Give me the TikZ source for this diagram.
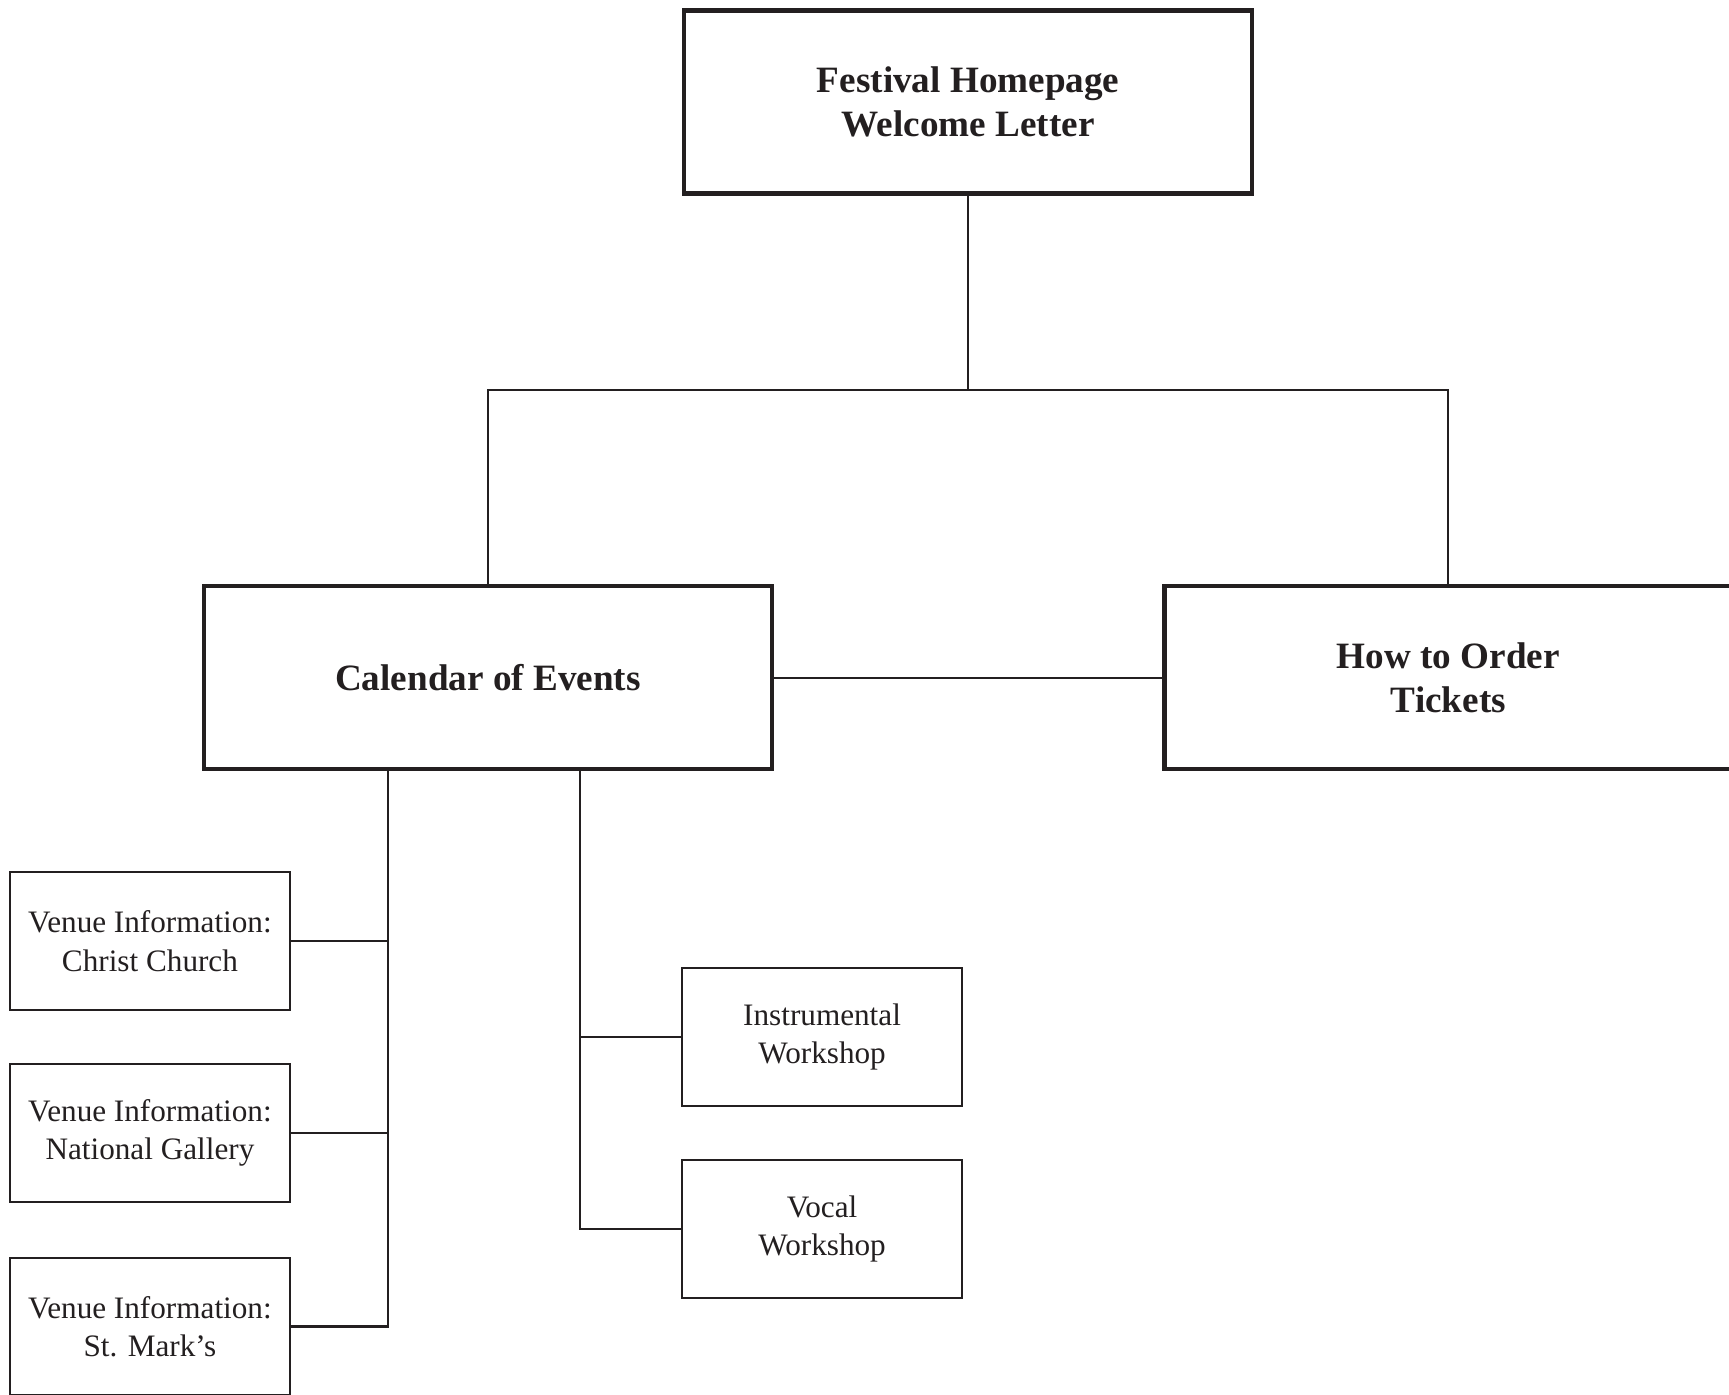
\documentclass[tikz,border=0pt]{standalone}
\usepackage{fontspec}
\setmainfont{Liberation Serif}
\usepackage{tikz}
\usetikzlibrary{positioning}
\definecolor{ink}{RGB}{35,31,32}

\begin{document}
\begin{tikzpicture}[x=0.5pt, y=-0.5pt, ink,
		bigbox/.style={draw=ink, line width=2pt, minimum width=257.5pt, minimum height=83pt,
			inner sep=0pt, align=center, text=ink, font=\fontsize{16.85}{20}\selectfont\bfseries},
		smallbox/.style={draw=ink, line width=1pt, minimum width=127pt, minimum height=62.5pt,
			inner sep=0pt, align=center, text=ink, font=\fontsize{14.15}{17.3}\selectfont},
		every path/.style={line width=1pt}]
		\useasboundingbox (0,0) rectangle (1568,1265);
		% Nodes
		\node[bigbox] (home) at (878,92.5) {Festival Homepage\\Welcome Letter};
		\node[bigbox] (cal) at (442.5,614.5) {Calendar of Events};
		\node[bigbox] (how) at (1313.5,614.5) {How to Order\\Tickets};
		\node[smallbox] (vcc) at (136,853.5) {Venue Information:\\Christ Church};
		\node[smallbox] (vng) at (136,1027.5) {Venue Information:\\National Gallery};
		\node[smallbox] (vsm) at (136,1203) {Venue Information:\\St. Mark's};
		\node[smallbox] (winst) at (745.5,940.5) {Instrumental\\Workshop};
		\node[smallbox] (wvoc) at (745.5,1114.5) {Vocal\\Workshop};
		\coordinate (bus) at (878,354);
		\coordinate (venuebus) at (352,0);
		\coordinate (wsbus) at (526,0);

		% Edges
		\draw (home.south) -- (bus);
		\draw (cal.north) |- (bus) -| (how.north);
		\draw (cal.east) -- (how.west);
		\draw (cal.south -| venuebus) -- (vsm.east -| venuebus) -- (vsm.east);
		\draw (vcc.east) -- (vcc.east -| venuebus);
		\draw (vng.east) -- (vng.east -| venuebus);
		\draw (cal.south -| wsbus) |- (wvoc.west);
		\draw (winst.west) -- (winst.west -| wsbus);
	\end{tikzpicture}
\end{document}
